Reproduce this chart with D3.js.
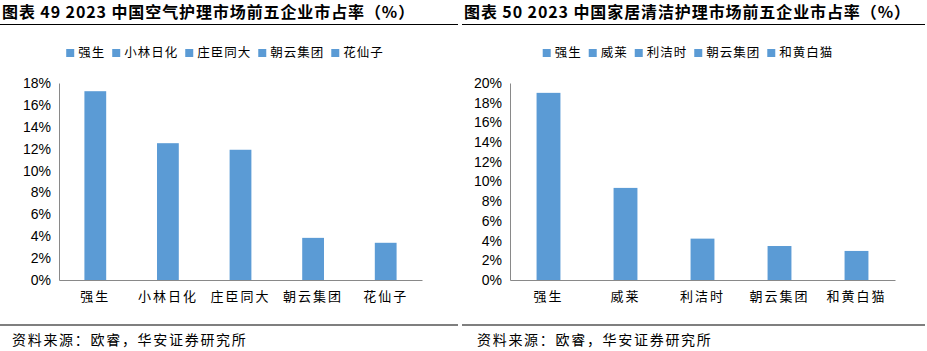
<!DOCTYPE html>
<html lang="zh">
<head>
<meta charset="UTF-8">
<title>市占率</title>
<script src="https://d3js.org/d3.v7.min.js"></script>
<style>
  body { margin: 0; background: #fff; }
  svg text { font-family: "Noto Sans CJK SC", "Liberation Sans", sans-serif; }
</style>
</head>
<body>
<svg id="chart" width="927" height="351"></svg>
<script>
// chart 49 - air care
const titleA = "图表 49 2023 中国空气护理市场前五企业市占率（%）";
const namesA = ["强生", "小林日化", "庄臣同大", "朝云集团", "花仙子"];
const valuesA = [17.25, 12.5, 11.9, 3.85, 3.4];
const ticksA = [0, 2, 4, 6, 8, 10, 12, 14, 16, 18];

// chart 50 - home cleaning care
const titleB = "图表 50 2023 中国家居清洁护理市场前五企业市占率（%）";
const namesB = ["强生", "威莱", "利洁时", "朝云集团", "和黄白猫"];
const valuesB = [19.0, 9.35, 4.2, 3.45, 2.95];
const ticksB = [0, 2, 4, 6, 8, 10, 12, 14, 16, 18, 20];

const source = "资料来源：欧睿，华安证券研究所";
const barColor = "#5b9bd5";

const svg = d3.select("#chart");

function drawPanel(opt) {
  const g = svg.append("g");

  // title and rules
  g.append("text")
    .attr("x", opt.x0 + 2).attr("y", 18)
    .style("font-size", "16px").style("font-weight", "bold")
    .attr("letter-spacing", "0.9px")
    .text(opt.title);
  g.append("line")
    .attr("x1", opt.x0).attr("x2", opt.x1)
    .attr("y1", 24.5).attr("y2", 24.5)
    .attr("stroke", "#000").attr("stroke-width", 1.2);
  g.append("line")
    .attr("x1", opt.x0).attr("x2", opt.x1)
    .attr("y1", 325).attr("y2", 325)
    .attr("stroke", "#000").attr("stroke-width", 1.2);
  g.append("text")
    .attr("x", opt.srcX).attr("y", 345)
    .style("font-size", "14px").attr("letter-spacing", "1.7px")
    .text(source);

  const x = d3.scaleBand()
    .domain(opt.names)
    .range([opt.left, opt.right])
    .paddingInner(opt.pad).paddingOuter(opt.pad / 2);

  const y = d3.scaleLinear()
    .domain([0, d3.max(opt.ticks)])
    .range([280, 83]);

  // y axis
  const yAxis = g.append("g")
    .attr("transform", `translate(${opt.left},0)`)
    .call(d3.axisLeft(y).tickValues(opt.ticks).tickSize(0).tickPadding(8)
      .tickFormat(d => d + "%"));
  yAxis.select(".domain").attr("stroke", "#898989");
  yAxis.selectAll("text")
    .style("font-family", "'Liberation Sans', Arial, sans-serif")
    .style("font-size", "14px").attr("fill", "#000");

  // bars
  g.selectAll("rect.bar")
    .data(opt.values)
    .join("rect")
    .attr("class", "bar")
    .attr("x", (d, i) => x(opt.names[i]))
    .attr("width", x.bandwidth())
    .attr("y", d => y(d))
    .attr("height", d => y(0) - y(d))
    .attr("fill", barColor);

  // x axis
  const xAxis = g.append("g")
    .attr("transform", "translate(0,280)")
    .call(d3.axisBottom(x).tickSize(0).tickPadding(12));
  xAxis.select(".domain").attr("stroke", "#898989");
  xAxis.selectAll("text")
    .style("font-size", "13px").attr("fill", "#000")
    .attr("letter-spacing", "2px");

  // legend
  const legend = g.append("g");
  let lx = 0;
  opt.names.forEach(n => {
    const item = legend.append("g").attr("transform", `translate(${lx},0)`);
    item.append("rect").attr("x", 0).attr("y", -8).attr("width", 8).attr("height", 8)
      .attr("fill", barColor);
    const t = item.append("text").attr("x", 12).attr("y", 0)
      .style("font-size", "12.5px").attr("letter-spacing", "1px").text(n);
    lx += 12 + t.node().getComputedTextLength() + 7;
  });
  const lw = lx - 7;
  legend.attr("transform", `translate(${opt.legendCx - lw / 2},57)`);
}

drawPanel({
  title: titleA, names: namesA, values: valuesA, ticks: ticksA,
  x0: 0, x1: 458, left: 59, right: 422, pad: 0.7,
  legendCx: 225, srcX: 12
});

drawPanel({
  title: titleB, names: namesB, values: valuesB, ticks: ticksB,
  x0: 462, x1: 925, left: 510, right: 895, pad: 0.69,
  legendCx: 688, srcX: 477
});
</script>
</body>
</html>
